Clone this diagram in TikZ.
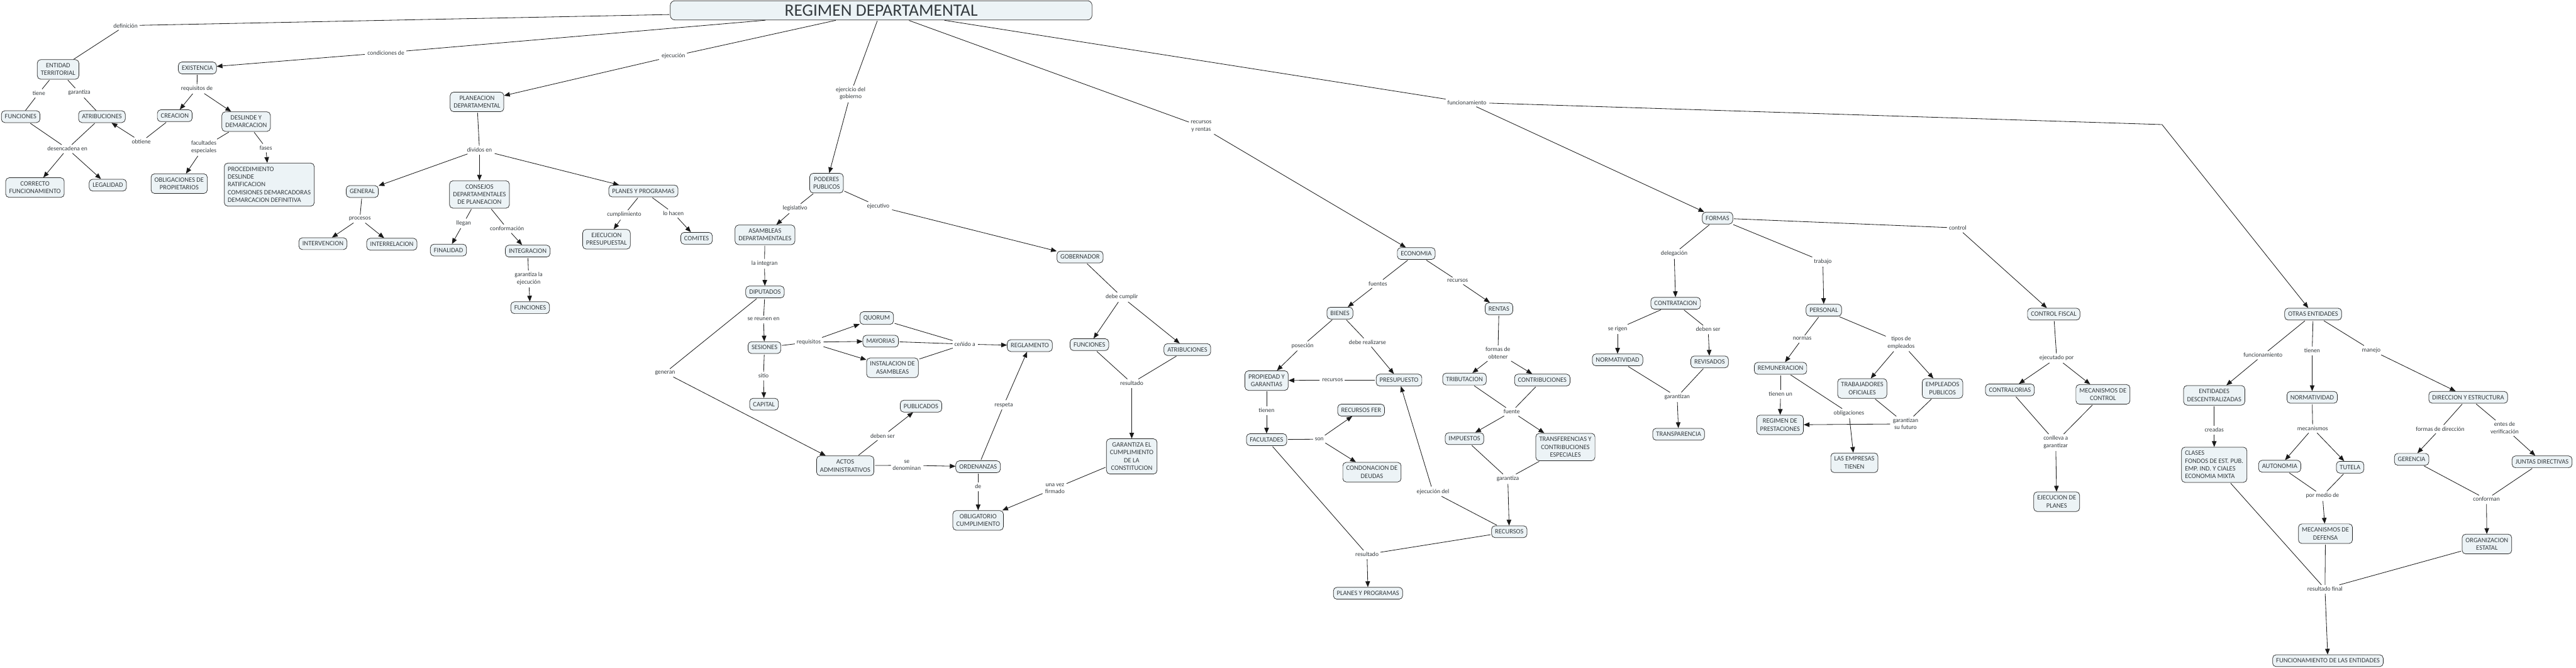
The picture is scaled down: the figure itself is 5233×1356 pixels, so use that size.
\documentclass[tikz,border=0pt]{standalone}
\usepackage{fontspec}
\setmainfont{Carlito}
\usepackage{tikz}
\usetikzlibrary{arrows.meta}
\definecolor{boxfill}{RGB}{236,243,246}
\definecolor{inkgrey}{RGB}{52,58,62}

\begin{document}
\begin{tikzpicture}[x=0.03cm, y=-0.03cm,
    cpt/.style={draw=black!85, line width=0.8pt, fill=boxfill, rounded corners=6pt, text=inkgrey,
        align=center, inner xsep=6pt, inner ysep=6.5pt, font=\fontsize{11.5}{13.5}\selectfont},
    cptl/.style={cpt, align=left},
    lnk/.style={text=inkgrey, align=center, inner sep=3pt, font=\fontsize{10.5}{12.5}\selectfont},
    con/.style={draw=black!90, line width=0.9pt, shorten <=1.5pt},
    arr/.style={con, -{Triangle[length=10pt,width=8pt]}}]
    \path[use as bounding box, fill=white] (0,0) rectangle (5233,1356);

    % Titulo
    \node[cpt, font=\fontsize{30}{34}\selectfont, minimum width=25.7cm, minimum height=1.17cm, rounded corners=8pt] (reg) at (1790,21) {REGIMEN DEPARTAMENTAL};

    % Entidad territorial y existencia
    \node[cpt] (entidad) at (118,141) {ENTIDAD\\TERRITORIAL};
    \node[cpt] (func1) at (42,237) {FUNCIONES};
    \node[cpt] (atrib1) at (207,237) {ATRIBUCIONES};
    \node[cpt] (correcto) at (71,381) {CORRECTO\\FUNCIONAMIENTO};
    \node[cpt] (legal) at (219,376) {LEGALIDAD};
    \node[cpt] (exist) at (401,138) {EXISTENCIA};
    \node[cpt] (creacion) at (355,235) {CREACION};
    \node[cpt] (deslinde) at (500,247) {DESLINDE Y\\DEMARCACION};
    \node[cpt] (oblig) at (364,373) {OBLIGACIONES DE\\PROPIETARIOS};
    \node[cptl] (proced) at (547,375) {PROCEDIMIENTO\\DESLINDE\\RATIFICACION\\COMISIONES DEMARCADORAS\\DEMARCACION DEFINITIVA};

    \node[lnk] (ldef) at (255,52) {definición};
    \node[lnk] (ltiene) at (79,189) {tiene};
    \node[lnk] (lgarant1) at (161,188) {garantiza};
    \node[lnk] (ldesenc) at (137,302) {desencadena en};
    \node[lnk] (lcond) at (784,107) {condiciones de};
    \node[lnk] (lreqde) at (400,180) {requisitos de};
    \node[lnk] (lobtiene) at (287,288) {obtiene};
    \node[lnk] (lfacesp) at (414,299) {facultades\\especiales};
    \node[lnk] (lfases) at (540,300) {fases};

    \draw[con] (reg) -- (ldef);
    \draw[con] (ldef) -- (entidad);
    \draw[con] (entidad) -- (ltiene);
    \draw[con] (ltiene) -- (func1);
    \draw[con] (entidad) -- (lgarant1);
    \draw[con] (lgarant1) -- (atrib1);
    \draw[con] (func1) -- (ldesenc);
    \draw[con] (atrib1) -- (ldesenc);
    \draw[arr] (ldesenc) -- (correcto);
    \draw[arr] (ldesenc) -- (legal);
    \draw[con] (reg) -- (lcond);
    \draw[arr] (lcond) -- (exist);
    \draw[con] (exist) -- (lreqde);
    \draw[arr] (lreqde) -- (creacion);
    \draw[arr] (lreqde) -- (deslinde);
    \draw[con] (creacion) -- (lobtiene);
    \draw[arr] (lobtiene) -- (atrib1);
    \draw[con] (deslinde) -- (lfacesp);
    \draw[arr] (lfacesp) -- (oblig);
    \draw[con] (deslinde) -- (lfases);
    \draw[arr] (lfases) -- (proced);

    % Planeacion
    \node[cpt] (planea) at (969,207) {PLANEACION\\DEPARTAMENTAL};
    \node[cpt] (general) at (736,389) {GENERAL};
    \node[cpt] (interv) at (656,495) {INTERVENCION};
    \node[cpt] (interr) at (796,496) {INTERRELACION};
    \node[cpt] (consejos) at (974,395) {CONSEJOS\\DEPARTAMENTALES\\DE PLANEACION};
    \node[cpt] (finalidad) at (911,508) {FINALIDAD};
    \node[cpt] (integ) at (1072,510) {INTEGRACION};
    \node[cpt] (func2) at (1077,625) {FUNCIONES};
    \node[cpt] (planes1) at (1307,388) {PLANES Y PROGRAMAS};
    \node[cpt] (ejecpres) at (1232,486) {EJECUCION\\PRESUPUESTAL};
    \node[cpt] (comites) at (1415,484) {COMITES};

    \node[lnk] (lejec) at (1368,114) {ejecución};
    \node[lnk] (ldivid) at (974,304) {dividos en};
    \node[lnk] (lproc) at (731,444) {procesos};
    \node[lnk] (lllegan) at (942,453) {llegan};
    \node[lnk] (lconfor) at (1030,464) {conformación};
    \node[lnk] (lgarej) at (1074,566) {garantiza la\\ejecución};
    \node[lnk] (lcumpl) at (1268,436) {cumplimiento};
    \node[lnk] (lhacen) at (1368,433) {lo hacen};

    \draw[con] (reg) -- (lejec);
    \draw[arr] (lejec) -- (planea);
    \draw[con] (planea) -- (ldivid);
    \draw[arr] (ldivid) -- (general);
    \draw[arr] (ldivid) -- (consejos);
    \draw[arr] (ldivid) -- (planes1);
    \draw[con] (general) -- (lproc);
    \draw[arr] (lproc) -- (interv);
    \draw[arr] (lproc) -- (interr);
    \draw[con] (consejos) -- (lllegan);
    \draw[arr] (lllegan) -- (finalidad);
    \draw[con] (consejos) -- (lconfor);
    \draw[arr] (lconfor) -- (integ);
    \draw[con] (integ) -- (lgarej);
    \draw[arr] (lgarej) -- (func2);
    \draw[con] (planes1) -- (lcumpl);
    \draw[arr] (lcumpl) -- (ejecpres);
    \draw[con] (planes1) -- (lhacen);
    \draw[arr] (lhacen) -- (comites);

    % Poderes publicos
    \node[cpt] (poderes) at (1679,372) {PODERES\\PUBLICOS};
    \node[cpt] (asamb) at (1554,477) {ASAMBLEAS\\DEPARTAMENTALES};
    \node[cpt] (diput) at (1554,593) {DIPUTADOS};
    \node[cpt] (sesiones) at (1553,706) {SESIONES};
    \node[cpt] (capital) at (1552,821) {CAPITAL};
    \node[cpt] (quorum) at (1781,646) {QUORUM};
    \node[cpt] (mayorias) at (1789,693) {MAYORIAS};
    \node[cpt] (instal) at (1813,747) {INSTALACION DE\\ASAMBLEAS};
    \node[cpt] (reglam) at (2092,702) {REGLAMENTO};
    \node[cpt] (actos) at (1717,946) {ACTOS\\ADMINISTRATIVOS};
    \node[cpt] (publ) at (1871,825) {PUBLICADOS};
    \node[cpt] (orden) at (1987,948) {ORDENANZAS};
    \node[cpt] (obligat) at (1987,1057) {OBLIGATORIO\\CUMPLIMIENTO};
    \node[cpt] (gober) at (2194,522) {GOBERNADOR};
    \node[cpt] (func3) at (2213,700) {FUNCIONES};
    \node[cpt] (atrib2) at (2412,710) {ATRIBUCIONES};
    \node[cpt] (garant) at (2299,927) {GARANTIZA EL\\CUMPLIMIENTO\\DE LA\\CONSTITUCION};

    \node[lnk] (lgob) at (1728,190) {ejercicio del\\gobierno};
    \node[lnk] (llegis) at (1615,423) {legislativo};
    \node[lnk] (lejecut) at (1784,419) {ejecutivo};
    \node[lnk] (linteg) at (1553,535) {la integran};
    \node[lnk] (lreunen) at (1551,648) {se reunen en};
    \node[lnk] (lgeneran) at (1351,757) {generan};
    \node[lnk] (lreq) at (1643,695) {requisitos};
    \node[lnk] (lsitio) at (1551,763) {sitio};
    \node[lnk] (lcenido) at (1960,699) {ceñido a};
    \node[lnk] (ldebser1) at (1793,886) {deben ser};
    \node[lnk] (ldenom) at (1842,945) {se\\denominan};
    \node[lnk] (lde) at (1987,988) {de};
    \node[lnk] (lrespeta) at (2039,823) {respeta};
    \node[lnk] (ldebcum) at (2279,603) {debe cumplir};
    \node[lnk] (lresul1) at (2299,778) {resultado};
    \node[lnk] (lfirmado) at (2143,992) {una vez\\firmado};

    \draw[con] (reg) -- (lgob);
    \draw[arr] (lgob) -- (poderes);
    \draw[con] (poderes) -- (llegis);
    \draw[arr] (llegis) -- (asamb);
    \draw[con] (poderes) -- (lejecut);
    \draw[arr] (lejecut) -- (gober);
    \draw[con] (asamb) -- (linteg);
    \draw[arr] (linteg) -- (diput);
    \draw[con] (diput) -- (lreunen);
    \draw[arr] (lreunen) -- (sesiones);
    \draw[con] (diput) -- (lgeneran);
    \draw[arr] (lgeneran) -- (actos);
    \draw[con] (sesiones) -- (lreq);
    \draw[arr] (lreq) -- (quorum);
    \draw[arr] (lreq) -- (mayorias);
    \draw[arr] (lreq) -- (instal);
    \draw[con] (sesiones) -- (lsitio);
    \draw[arr] (lsitio) -- (capital);
    \draw[con] (quorum) -- (lcenido);
    \draw[con] (mayorias) -- (lcenido);
    \draw[con] (instal) -- (lcenido);
    \draw[arr] (lcenido) -- (reglam);
    \draw[con] (actos) -- (ldebser1);
    \draw[arr] (ldebser1) -- (publ);
    \draw[con] (actos) -- (ldenom);
    \draw[arr] (ldenom) -- (orden);
    \draw[con] (orden) -- (lde);
    \draw[arr] (lde) -- (obligat);
    \draw[con] (orden) -- (lrespeta);
    \draw[arr] (lrespeta) -- (reglam);
    \draw[con] (gober) -- (ldebcum);
    \draw[arr] (ldebcum) -- (func3);
    \draw[arr] (ldebcum) -- (atrib2);
    \draw[con] (func3) -- (lresul1);
    \draw[con] (atrib2) -- (lresul1);
    \draw[arr] (lresul1) -- (garant);
    \draw[con] (garant) -- (lfirmado);
    \draw[arr] (lfirmado) -- (obligat);

    % Economia
    \node[cpt] (econ) at (2877,515) {ECONOMIA};
    \node[cpt] (bienes) at (2722,636) {BIENES};
    \node[cpt] (rentas) at (3045,627) {RENTAS};
    \node[cpt] (propied) at (2573,773) {PROPIEDAD Y\\GARANTIAS};
    \node[cpt] (facult) at (2573,893) {FACULTADES};
    \node[cpt] (presup) at (2842,772) {PRESUPUESTO};
    \node[cpt] (recfer) at (2765,833) {RECURSOS FER};
    \node[cpt] (condon) at (2787,959) {CONDONACION DE\\DEUDAS};
    \node[cpt] (planes2) at (2779,1205) {PLANES Y PROGRAMAS};
    \node[cpt] (tribut) at (2975,770) {TRIBUTACION};
    \node[cpt] (contrib) at (3133,772) {CONTRIBUCIONES};
    \node[cpt] (impuest) at (2975,891) {IMPUESTOS};
    \node[cpt] (transf) at (3180,908) {TRANSFERENCIAS Y\\CONTRIBUCIONES\\ESPECIALES};
    \node[cpt] (recursos) at (3066,1080) {RECURSOS};

    \node[lnk] (lrentas) at (2440,257) {recursos\\y rentas};
    \node[lnk] (lfuentes) at (2799,576) {fuentes};
    \node[lnk] (lrecur1) at (2961,570) {recursos};
    \node[lnk] (lposes) at (2646,702) {poseción};
    \node[lnk] (lrealiz) at (2778,695) {debe realizarse};
    \node[lnk] (lrecur2) at (2707,772) {recursos};
    \node[lnk] (ltienen1) at (2573,833) {tienen};
    \node[lnk] (lson) at (2680,892) {son};
    \node[lnk] (lresul2) at (2777,1126) {resultado};
    \node[lnk] (lobten) at (3043,717) {formas de\\obtener};
    \node[lnk] (lfuente) at (3071,836) {fuente};
    \node[lnk] (lgarant2) at (3063,972) {garantiza};
    \node[lnk] (lejecdel) at (2911,999) {ejecución del};

    \draw[con] (reg) -- (lrentas);
    \draw[arr] (lrentas) -- (econ);
    \draw[con] (econ) -- (lfuentes);
    \draw[arr] (lfuentes) -- (bienes);
    \draw[con] (econ) -- (lrecur1);
    \draw[arr] (lrecur1) -- (rentas);
    \draw[con] (bienes) -- (lposes);
    \draw[arr] (lposes) -- (propied);
    \draw[con] (bienes) -- (lrealiz);
    \draw[arr] (lrealiz) -- (presup);
    \draw[con] (presup) -- (lrecur2);
    \draw[arr] (lrecur2) -- (propied);
    \draw[con] (propied) -- (ltienen1);
    \draw[arr] (ltienen1) -- (facult);
    \draw[con] (facult) -- (lson);
    \draw[arr] (lson) -- (recfer);
    \draw[arr] (lson) -- (condon);
    \draw[con] (facult) -- (lresul2);
    \draw[con] (recursos) -- (lresul2);
    \draw[arr] (lresul2) -- (planes2);
    \draw[con] (rentas) -- (lobten);
    \draw[arr] (lobten) -- (tribut);
    \draw[arr] (lobten) -- (contrib);
    \draw[con] (tribut) -- (lfuente);
    \draw[con] (contrib) -- (lfuente);
    \draw[arr] (lfuente) -- (impuest);
    \draw[arr] (lfuente) -- (transf);
    \draw[con] (impuest) -- (lgarant2);
    \draw[con] (transf) -- (lgarant2);
    \draw[arr] (lgarant2) -- (recursos);
    \draw[con] (recursos) -- (lejecdel);
    \draw[arr] (lejecdel) -- (presup);

    % Formas
    \node[cpt] (formas) at (3489,443) {FORMAS};
    \node[cpt] (contrat) at (3404,616) {CONTRATACION};
    \node[cpt] (norm1) at (3286,731) {NORMATIVIDAD};
    \node[cpt] (revis) at (3473,735) {REVISADOS};
    \node[cpt] (transp) at (3410,882) {TRANSPARENCIA};
    \node[cpt] (personal) at (3705,630) {PERSONAL};
    \node[cpt] (remun) at (3617,748) {REMUNERACION};
    \node[cpt] (regpres) at (3616,863) {REGIMEN DE\\PRESTACIONES};
    \node[cpt] (empresas) at (3767,940) {LAS EMPRESAS\\TIENEN};
    \node[cpt] (trabaj) at (3783,789) {TRABAJADORES\\OFICIALES};
    \node[cpt] (emplead) at (3946,789) {EMPLEADOS\\PUBLICOS};
    \node[cpt] (cfiscal) at (4172,638) {CONTROL FISCAL};
    \node[cpt] (contral) at (4083,792) {CONTRALORIAS};
    \node[cpt] (mecctrl) at (4272,801) {MECANISMOS DE\\CONTROL};
    \node[cpt] (ejecplan) at (4178,1019) {EJECUCION DE\\PLANES};

    \node[lnk] (lfunc1) at (2980,208) {funcionamiento};
    \node[lnk] (ldeleg) at (3401,515) {delegación};
    \node[lnk] (ltrabajo) at (3703,531) {trabajo};
    \node[lnk] (lcontrol) at (3977,463) {control};
    \node[lnk] (lrigen) at (3286,668) {se rigen};
    \node[lnk] (ldebser2) at (3470,669) {deben ser};
    \node[lnk] (lgarantz1) at (3407,806) {garantizan};
    \node[lnk] (lnormas) at (3661,688) {normas};
    \node[lnk] (ltipos) at (3862,696) {tipos de\\empleados};
    \node[lnk] (ltienun) at (3617,800) {tienen un};
    \node[lnk] (loblig) at (3756,839) {obligaciones};
    \node[lnk] (lfuturo) at (3871,861) {garantizan\\su futuro};
    \node[lnk] (lejecpor) at (4178,727) {ejecutado por};
    \node[lnk] (lconlleva) at (4176,898) {conlleva a\\garantizar};

    \draw[con] (reg) -- (lfunc1);
    \draw[arr] (lfunc1) -- (formas);
    \draw[con] (formas) -- (ldeleg);
    \draw[arr] (ldeleg) -- (contrat);
    \draw[con] (formas) -- (ltrabajo);
    \draw[arr] (ltrabajo) -- (personal);
    \draw[con] (formas) -- (lcontrol);
    \draw[arr] (lcontrol) -- (cfiscal);
    \draw[con] (contrat) -- (lrigen);
    \draw[arr] (lrigen) -- (norm1);
    \draw[con] (contrat) -- (ldebser2);
    \draw[arr] (ldebser2) -- (revis);
    \draw[con] (norm1) -- (lgarantz1);
    \draw[con] (revis) -- (lgarantz1);
    \draw[arr] (lgarantz1) -- (transp);
    \draw[con] (personal) -- (lnormas);
    \draw[arr] (lnormas) -- (remun);
    \draw[con] (personal) -- (ltipos);
    \draw[arr] (ltipos) -- (trabaj);
    \draw[arr] (ltipos) -- (emplead);
    \draw[con] (remun) -- (ltienun);
    \draw[arr] (ltienun) -- (regpres);
    \draw[con] (remun) -- (loblig);
    \draw[arr] (loblig) -- (empresas);
    \draw[con] (trabaj) -- (lfuturo);
    \draw[con] (emplead) -- (lfuturo);
    \draw[arr] (lfuturo) -- (regpres);
    \draw[con] (cfiscal) -- (lejecpor);
    \draw[arr] (lejecpor) -- (contral);
    \draw[arr] (lejecpor) -- (mecctrl);
    \draw[con] (contral) -- (lconlleva);
    \draw[con] (mecctrl) -- (lconlleva);
    \draw[arr] (lconlleva) -- (ejecplan);

    % Otras entidades
    \node[cpt] (otras) at (4699,638) {OTRAS ENTIDADES};
    \node[cpt] (descen) at (4498,803) {ENTIDADES\\DESCENTRALIZADAS};
    \node[cptl] (clases) at (4498,944) {CLASES\\FONDOS DE EST. PUB.\\EMP. IND. Y CIALES\\ECONOMIA MIXTA};
    \node[cpt] (norm2) at (4697,807) {NORMATIVIDAD};
    \node[cpt] (auton) at (4631,947) {AUTONOMIA};
    \node[cpt] (tutela) at (4774,949) {TUTELA};
    \node[cpt] (mecdef) at (4724,1084) {MECANISMOS DE\\DEFENSA};
    \node[cpt] (direcc) at (5014,807) {DIRECCION Y ESTRUCTURA};
    \node[cpt] (geren) at (4899,933) {GERENCIA};
    \node[cpt] (juntas) at (5164,938) {JUNTAS DIRECTIVAS};
    \node[cpt] (organiz) at (5052,1105) {ORGANIZACION\\ESTATAL};
    \node[cpt] (funcent) at (4729,1342) {FUNCIONAMIENTO DE LAS ENTIDADES};

    \coordinate (kink) at (4392,253);
    \node[lnk] (lfunc2) at (4597,721) {funcionamiento};
    \node[lnk] (ltienen2) at (4697,712) {tienen};
    \node[lnk] (lmanejo) at (4817,711) {manejo};
    \node[lnk] (lcreadas) at (4498,873) {creadas};
    \node[lnk] (lmecan) at (4698,870) {mecanismos};
    \node[lnk] (lpormedio) at (4718,1007) {por medio de};
    \node[lnk] (lformdir) at (4957,871) {formas de dirección};
    \node[lnk] (lentes) at (5088,869) {entes de\\verificación};
    \node[lnk] (lconforman) at (5051,1014) {conforman};
    \node[lnk] (lfinal) at (4723,1196) {resultado final};

    \draw[arr] (lfunc1) -- (kink) -- (otras);
    \draw[con] (otras) -- (lfunc2);
    \draw[arr] (lfunc2) -- (descen);
    \draw[con] (otras) -- (ltienen2);
    \draw[arr] (ltienen2) -- (norm2);
    \draw[con] (otras) -- (lmanejo);
    \draw[arr] (lmanejo) -- (direcc);
    \draw[con] (descen) -- (lcreadas);
    \draw[arr] (lcreadas) -- (clases);
    \draw[con] (norm2) -- (lmecan);
    \draw[arr] (lmecan) -- (auton);
    \draw[arr] (lmecan) -- (tutela);
    \draw[con] (auton) -- (lpormedio);
    \draw[con] (tutela) -- (lpormedio);
    \draw[arr] (lpormedio) -- (mecdef);
    \draw[con] (direcc) -- (lformdir);
    \draw[arr] (lformdir) -- (geren);
    \draw[con] (direcc) -- (lentes);
    \draw[arr] (lentes) -- (juntas);
    \draw[con] (geren) -- (lconforman);
    \draw[con] (juntas) -- (lconforman);
    \draw[arr] (lconforman) -- (organiz);
    \draw[con] (clases) -- (lfinal);
    \draw[con] (mecdef) -- (lfinal);
    \draw[con] (organiz) -- (lfinal);
    \draw[arr] (lfinal) -- (funcent);
\end{tikzpicture}
\end{document}
